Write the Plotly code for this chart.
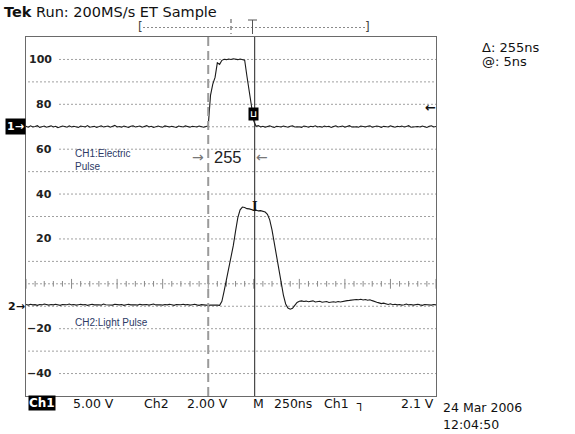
import numpy as np
import plotly.graph_objects as go

t_start_ns, t_step_ns, n_samples = 0.0, 12.5, 181
time_ns = t_start_ns + t_step_ns * np.arange(n_samples)

ch1_electric = [
    70.2, 69.8, 70.4, 69.9, 70.1, 70.5, 69.7, 70.0, 70.3, 69.8,
    70.1, 70.4, 69.9, 70.2, 69.6, 70.0, 70.3, 70.1, 69.8, 70.4,
    69.9, 70.2, 70.0, 69.7, 70.3, 70.1, 69.9, 70.5, 69.8, 70.0,
    70.2, 69.7, 70.1, 70.4, 69.9, 70.0, 70.3, 69.8, 70.2, 70.6,
    69.9, 70.1, 69.8, 70.3, 70.0, 69.7, 70.2, 70.4, 69.9, 70.1,
    70.3, 69.8, 70.0, 70.5, 69.9, 70.2, 69.7, 70.1, 70.3, 70.0,
    69.8, 70.4, 70.1, 69.9, 70.2, 70.0, 69.7, 70.3, 70.1, 69.9,
    70.4, 70.0, 69.8, 70.2, 70.1, 69.9, 70.3, 70.0, 69.8, 70.1,
    70.3, 84.0, 89.0, 92.0, 98.5, 97.8, 99.6, 100.1, 99.9, 100.2,
    100.0, 100.3, 100.1, 99.9, 100.2, 100.0, 99.7, 92.5, 86.0, 79.0,
    72.5, 70.2,
    70.5, 69.9, 70.2, 69.8, 70.1, 70.4, 70.0, 69.7, 70.2, 70.1,
    69.9, 70.3, 70.0, 69.8, 70.2, 70.4, 69.9, 70.1, 70.0, 69.7,
    70.3, 70.1, 69.8, 70.2, 70.0, 70.4, 69.9, 70.1, 69.8, 70.3,
    70.0, 70.2, 69.7, 70.1, 70.4, 69.9, 70.0, 70.3, 69.8, 70.2,
    70.5, 69.9, 70.1, 70.0, 69.8, 70.3, 70.1, 69.9, 70.2, 70.4,
    69.8, 70.0, 70.3, 70.1, 69.7, 70.2, 70.0, 69.9, 70.4, 70.1,
    69.8, 70.2, 70.0, 70.3, 69.9, 70.1, 70.5, 69.8, 70.0, 70.2,
    70.1, 69.9, 70.3, 70.0, 69.7, 70.2, 70.4, 69.9, 70.1,
]

ch2_light = [
    -9.2, -9.5, -9.1, -9.4, -9.3, -9.6, -9.2, -9.4, -9.0, -9.3,
    -9.5, -9.2, -9.4, -9.1, -9.3, -9.6, -9.2, -9.4, -9.3, -9.0,
    -9.4, -9.2, -9.5, -9.3, -9.1, -9.4, -9.2, -9.6, -9.3, -9.1,
    -9.4, -9.2, -9.3, -9.5, -9.0, -9.3, -9.4, -9.2, -9.5, -9.1,
    -9.3, -9.4, -9.2, -9.6, -9.3, -9.1, -9.4, -9.2, -9.3, -9.5,
    -9.1, -9.4, -9.3, -9.2, -9.5, -9.3, -9.0, -9.4, -9.2, -9.3,
    -9.5, -9.2, -9.4, -9.1, -9.3, -9.6, -9.2, -9.4, -9.3, -9.1,
    -9.4, -9.2, -9.5, -9.3, -9.1, -9.4, -9.6, -9.3, -9.5, -9.4,
    -9.6, -9.5, -9.4, -9.6, -9.5,
    -9.6, -7.8, -3.2, 1.5, 6.0, 11.5, 17.0, 23.5, 29.5, 33.0,
    34.2, 34.0, 33.5, 33.4, 33.0, 32.8, 32.9, 32.5, 32.6, 32.3,
    32.0, 31.0, 28.5, 24.0, 18.0, 12.0, 5.5, 0.0, -5.0, -9.0,
    -10.8, -11.3, -10.9, -9.6, -8.3, -7.8,
    -7.6, -7.9, -7.7, -8.0, -7.8, -7.6, -8.1, -7.9, -7.8, -8.2,
    -8.0, -7.9, -8.3, -8.1, -8.0, -8.2, -7.9, -8.1, -7.8, -7.7,
    -7.5, -7.4, -7.2, -7.3, -7.0, -7.1, -6.9, -7.2, -7.0, -7.3,
    -7.1, -7.5, -7.7, -8.2, -8.5, -8.8, -8.6, -9.0, -9.2, -8.9,
    -9.3, -9.1, -9.4, -9.2, -9.5, -9.3, -9.0, -9.4, -9.2, -9.5,
    -9.3, -9.1, -9.4, -9.6, -9.2, -9.4, -9.3, -9.5, -9.2, -9.4,
]

y_tick_values = [100, 80, 60, 40, 20, -20, -40]
y_tick_labels = ["100", "80", "60", "40", "20", "\u221220", "\u221240"]
grid_levels = [100, 90, 80, 70, 60, 50, 40, 30, 20, 10, 0, -10, -20, -30, -40]
ch1_ref_level, ch2_ref_level, trigger_level = 70, -10, 78.4
cursor1_ns, cursor2_ns = 1000, 1255
delta_label = "255"

# ---------------- layout geometry ----------------
W, H = 575, 434
L, R, T, B = 26, 436, 37, 396          # plot box in window pixels
X_RANGE = [0, 2250]
Y_RANGE = [-50, 110]
DIV_NS = 250


def px(p):
    return (p - L) / (R - L)


def py(p):
    return (B - p) / (B - T)


fig = go.Figure()

# center graticule ticks
minor = np.arange(X_RANGE[0], X_RANGE[1] + 1, DIV_NS / 5)
minor = minor[(minor % DIV_NS) != 0]
major = np.arange(X_RANGE[0], X_RANGE[1] + 1, DIV_NS)
fig.add_trace(go.Scatter(x=minor, y=[0] * len(minor), mode="markers",
                         marker=dict(symbol="line-ns", size=4,
                                     line=dict(color="#8a8a8a", width=1)),
                         hoverinfo="skip", showlegend=False))
fig.add_trace(go.Scatter(x=major, y=[0] * len(major), mode="markers",
                         marker=dict(symbol="line-ns", size=7,
                                     line=dict(color="#8a8a8a", width=1)),
                         hoverinfo="skip", showlegend=False))

fig.add_trace(go.Scatter(x=time_ns, y=ch1_electric, mode="lines",
                         line=dict(color="#1a1a1a", width=1.1),
                         showlegend=False, name="CH1"))
fig.add_trace(go.Scatter(x=time_ns, y=ch2_light, mode="lines",
                         line=dict(color="#1a1a1a", width=1.1),
                         showlegend=False, name="CH2"))

shapes = []
for v in grid_levels:
    x0 = px(59) if v in y_tick_values else px(28)
    shapes.append(dict(type="line", xref="paper", yref="y", x0=x0, x1=1,
                       y0=v, y1=v, layer="below",
                       line=dict(color="#a0a0a0", width=1, dash="2px,2px")))
# cursors
shapes.append(dict(type="line", xref="x", yref="paper", x0=cursor1_ns,
                   x1=cursor1_ns, y0=0, y1=1,
                   line=dict(color="#9a9a9a", width=2, dash="9px,5px")))
shapes.append(dict(type="line", xref="x", yref="paper", x0=cursor2_ns,
                   x1=cursor2_ns, y0=0, y1=1,
                   line=dict(color="#222222", width=1)))
# record bracket at top
shapes.append(dict(type="line", xref="paper", yref="paper", x0=px(143),
                   x1=px(365), y0=py(27.5), y1=py(27.5),
                   line=dict(color="#8a8a8a", width=1, dash="2px,2px")))
shapes.append(dict(type="line", xref="paper", yref="paper", x0=px(231),
                   x1=px(231), y0=py(19), y1=py(34),
                   line=dict(color="#888888", width=1.5, dash="4px,3px")))
shapes.append(dict(type="line", xref="paper", yref="paper", x0=px(248),
                   x1=px(257), y0=py(20), y1=py(20),
                   line=dict(color="#555555", width=1)))
shapes.append(dict(type="line", xref="paper", yref="paper", x0=px(252.5),
                   x1=px(252.5), y0=py(20), y1=py(34),
                   line=dict(color="#555555", width=1)))

ann = []


def A(text, x, y, xa="left", size=12, color="#111111", family="DejaVu Sans",
      xref="paper", yref="paper", **kw):
    ann.append(dict(text=text, x=x, y=y, xref=xref, yref=yref, xanchor=xa,
                    yanchor="middle", showarrow=False,
                    font=dict(size=size, color=color, family=family), **kw))


# y labels (inside the box)
for v, lab in zip(y_tick_values, y_tick_labels):
    A("<b>%s</b>" % lab, px(54), v, xa="right", size=11, color="#222222",
      yref="y")

# header
A("<b>Tek</b> Run: 200MS/s ET Sample", px(2), py(12), size=14.5)
A("[", px(140), py(27.5), xa="center", size=12, color="#444444")
A("]", px(367), py(27.5), xa="center", size=12, color="#444444")

# right readout
A("\u0394: 255ns", px(480), py(48), size=13)
A("@: 5ns", px(480), py(62), size=13)

# channel markers
A("<b>1\u2192</b>", px(26), ch1_ref_level, xa="right", size=11,
  color="white", yref="y", bgcolor="black", borderpad=1)
A("<b>2\u2192</b>", px(26), ch2_ref_level, xa="right", size=11,
  color="#111111", yref="y", borderpad=0)
A("<b>\u2190</b>", px(437), trigger_level, xa="right", size=13,
  color="#111111", yref="y", borderpad=0)

# in-plot labels
navy = "#2c3a66"
A("CH1:Electric", px(73), py(153.5), size=10, color=navy,
  family="Liberation Sans")
A("Pulse", px(73), py(166), size=10, color=navy, family="Liberation Sans")
A("CH2:Light Pulse", px(73), py(322), size=10, color=navy,
  family="Liberation Sans")
A("\u2192", px(198), py(157), xa="center", size=14, color="#777777",
  family="DejaVu Sans")
A(delta_label, px(227.5), py(156.5), xa="center", size=16.5, color="#222222",
  family="Liberation Sans")
A("\u2190", px(262), py(157), xa="center", size=14, color="#777777",
  family="DejaVu Sans")

# cursor markers on the traces
A("<b>\u2294</b>", (cursor2_ns - 7), 75.5, xa="center", size=9, color="white",
  xref="x", yref="y", bgcolor="black", borderpad=1)
A("<b>I</b>", cursor2_ns, 34.3, xa="center", size=12, color="#111111",
  family="DejaVu Serif", xref="x", yref="y", borderpad=0)

# bottom status line
yb = py(403.5)
A("<b>Ch1</b>", px(28), yb, size=12, color="white", bgcolor="black",
  borderpad=0)
A("5.00 V", px(71), yb, size=12.5)
A("Ch2", px(142), yb, size=12.5)
A("2.00 V", px(185), yb, size=12.5)
A("M", px(251), yb, size=12.5)
A("250ns", px(272), yb, size=12.5)
A("Ch1", px(322), yb, size=12.5)
A("\u2510", px(354), yb, size=12.5)
A("2.1 V", px(436), yb, xa="right", size=12.5)
A("24 Mar 2006", px(441), py(407.5), size=12.5)
A("12:04:50", px(441), py(424), size=12.5)

fig.update_layout(
    width=W, height=H,
    margin=dict(l=L, r=W - R, t=T, b=H - B, pad=0),
    paper_bgcolor="white", plot_bgcolor="white",
    showlegend=False,
    xaxis=dict(range=X_RANGE, showgrid=False, zeroline=False,
               showticklabels=False, ticks="", showline=True, mirror=True,
               linecolor="#6a6a6a", linewidth=1, fixedrange=True),
    yaxis=dict(range=Y_RANGE, showgrid=False, zeroline=False,
               showticklabels=False, ticks="", showline=True, mirror=True,
               linecolor="#6a6a6a", linewidth=1, fixedrange=True),
    shapes=shapes,
    annotations=ann,
)

# remove the browser's default 8px body margin so the figure fills the window
fig.write_html("out.html",
               config={"displayModeBar": False, "staticPlot": True},
               post_script="document.body.style.margin='0';"
                           "document.body.style.overflow='hidden';")
